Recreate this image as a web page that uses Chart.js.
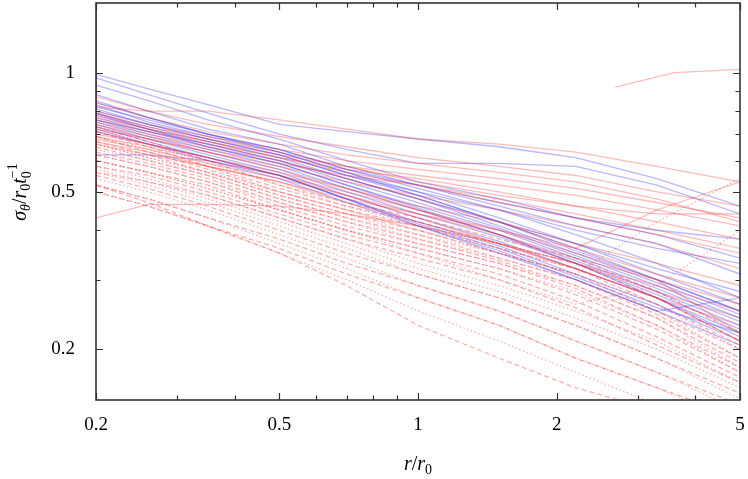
<!DOCTYPE html>
<html>
<head>
<meta charset="utf-8">
<script src="https://cdn.jsdelivr.net/npm/chart.js@4.4.1/dist/chart.umd.min.js"></script>
<style>
  html, body { margin: 0; background: #fff; }
  #wrap { width: 748px; height: 479px; }
</style>
</head>
<body>
<div id="wrap"><canvas id="chart"></canvas></div>
<script>
// ============================================
// Data
// ============================================
const XS = [0.2, 0.26, 0.35, 0.5, 0.7, 1, 1.5, 2.2, 3.3, 5];

// blue solid curves
const BLUE_SOLID = [
  [0.99, 0.91, 0.83, 0.74, 0.71, 0.68, 0.65, 0.61, 0.54, 0.46],
  [0.97, 0.88, 0.79, 0.70, 0.64, 0.59, 0.59, 0.58, 0.52, 0.44],
  [0.93, 0.85, 0.76, 0.68, 0.60, 0.53, 0.48, 0.43, 0.39, 0.34],
  [0.88, 0.80, 0.72, 0.66, 0.58, 0.52, 0.46, 0.41, 0.37, 0.31],
  [0.85, 0.77, 0.70, 0.64, 0.57, 0.51, 0.45, 0.39, 0.33, 0.27],
  [0.83, 0.75, 0.69, 0.63, 0.56, 0.50, 0.43, 0.37, 0.31, 0.26],
  [0.81, 0.74, 0.68, 0.62, 0.55, 0.49, 0.42, 0.36, 0.30, 0.25],
  [0.79, 0.73, 0.67, 0.61, 0.54, 0.48, 0.41, 0.35, 0.295, 0.245],
  [0.78, 0.72, 0.66, 0.60, 0.53, 0.47, 0.405, 0.345, 0.29, 0.24],
  [0.77, 0.71, 0.65, 0.59, 0.52, 0.46, 0.40, 0.34, 0.285, 0.235],
  [0.76, 0.70, 0.64, 0.58, 0.51, 0.45, 0.39, 0.335, 0.28, 0.23],
  [0.75, 0.69, 0.63, 0.57, 0.50, 0.44, 0.385, 0.33, 0.275, 0.225],
  [0.74, 0.68, 0.62, 0.56, 0.49, 0.43, 0.375, 0.32, 0.27, 0.22],
  [0.73, 0.67, 0.61, 0.55, 0.48, 0.42, 0.365, 0.31, 0.26, 0.21],
  [0.72, 0.66, 0.60, 0.54, 0.47, 0.41, 0.355, 0.30, 0.25, 0.205],
  [0.82, 0.76, 0.70, 0.64, 0.57, 0.52, 0.47, 0.43, 0.40, 0.38],
  [0.62, 0.62, 0.60, 0.55, 0.48, 0.41, 0.35, 0.30, 0.25, 0.27],
  [0.80, 0.74, 0.68, 0.62, 0.55, 0.50, 0.45, 0.40, 0.36, 0.33],
  [0.84, 0.77, 0.70, 0.63, 0.56, 0.49, 0.42, 0.355, 0.30, 0.25],
  [0.71, 0.66, 0.61, 0.55, 0.48, 0.415, 0.36, 0.305, 0.255, 0.22],
  [0.76, 0.71, 0.66, 0.60, 0.54, 0.48, 0.42, 0.37, 0.32, 0.28],
  [0.79, 0.72, 0.65, 0.59, 0.52, 0.455, 0.39, 0.33, 0.27, 0.215],
];

// red solid curves
const RED_SOLID = [
  [0.43, 0.465, 0.465, 0.46, 0.44, 0.41, 0.37, 0.33, 0.29, 0.25],
  [0.82, 0.80, 0.80, 0.76, 0.72, 0.68, 0.66, 0.63, 0.58, 0.53],
  [0.87, 0.80, 0.74, 0.69, 0.65, 0.61, 0.58, 0.55, 0.50, 0.46],
  [0.84, 0.77, 0.71, 0.66, 0.62, 0.59, 0.56, 0.53, 0.48, 0.42],
  [0.80, 0.74, 0.69, 0.64, 0.60, 0.57, 0.54, 0.51, 0.47, 0.43],
  [0.78, 0.72, 0.67, 0.62, 0.58, 0.55, 0.52, 0.49, 0.45, 0.41],
  [0.76, 0.71, 0.66, 0.61, 0.57, 0.54, 0.50, 0.46, 0.42, 0.38],
  [0.74, 0.69, 0.64, 0.59, 0.55, 0.52, 0.48, 0.44, 0.40, 0.36],
  [0.72, 0.68, 0.63, 0.58, 0.53, 0.49, 0.45, 0.41, 0.37, 0.32],
  [0.70, 0.66, 0.61, 0.56, 0.51, 0.46, 0.42, 0.37, 0.33, 0.29],
  [0.68, 0.64, 0.59, 0.54, 0.49, 0.44, 0.39, 0.34, 0.30, 0.26],
  [0.75, 0.70, 0.65, 0.60, 0.54, 0.48, 0.42, 0.36, 0.31, 0.27],
  [0.73, 0.68, 0.63, 0.57, 0.51, 0.45, 0.39, 0.33, 0.28, 0.24],
  [0.71, 0.66, 0.61, 0.55, 0.49, 0.43, 0.37, 0.32, 0.27, 0.23],
  [0.66, 0.62, 0.58, 0.53, 0.48, 0.44, 0.40, 0.36, 0.45, 0.53],
  [0.79, 0.73, 0.68, 0.63, 0.58, 0.53, 0.49, 0.46, 0.44, 0.44],
  [0.69, 0.65, 0.60, 0.55, 0.50, 0.45, 0.40, 0.35, 0.30, 0.22],
  [0.67, 0.63, 0.58, 0.53, 0.47, 0.42, 0.37, 0.32, 0.27, 0.21],
  [0.77, 0.72, 0.67, 0.61, 0.56, 0.52, 0.47, 0.43, 0.39, 0.35],
];

// red dashed curves
const RED_DASHED = [
  [0.73, 0.67, 0.60, 0.52, 0.47, 0.43, 0.38, 0.34, 0.28, 0.22],
  [0.71, 0.65, 0.58, 0.51, 0.46, 0.42, 0.37, 0.33, 0.27, 0.21],
  [0.69, 0.63, 0.57, 0.50, 0.45, 0.41, 0.36, 0.32, 0.26, 0.205],
  [0.67, 0.62, 0.56, 0.49, 0.44, 0.40, 0.35, 0.31, 0.25, 0.20],
  [0.65, 0.60, 0.55, 0.48, 0.43, 0.39, 0.34, 0.30, 0.245, 0.19],
  [0.63, 0.59, 0.54, 0.47, 0.42, 0.38, 0.335, 0.29, 0.24, 0.185],
  [0.62, 0.58, 0.53, 0.46, 0.41, 0.37, 0.33, 0.285, 0.23, 0.18],
  [0.60, 0.56, 0.52, 0.45, 0.40, 0.36, 0.32, 0.275, 0.225, 0.175],
  [0.58, 0.55, 0.50, 0.44, 0.39, 0.35, 0.31, 0.265, 0.215, 0.17],
  [0.56, 0.53, 0.49, 0.43, 0.38, 0.34, 0.30, 0.255, 0.205, 0.165],
  [0.55, 0.51, 0.46, 0.40, 0.35, 0.31, 0.27, 0.23, 0.19, 0.155],
  [0.52, 0.48, 0.43, 0.38, 0.33, 0.29, 0.25, 0.21, 0.175, 0.145],
  [0.50, 0.46, 0.41, 0.36, 0.31, 0.27, 0.23, 0.19, 0.16, 0.135],
  [0.52, 0.47, 0.41, 0.35, 0.29, 0.23, 0.19, 0.16, 0.14, 0.12],
];

// red dotted curves
const RED_DOTTED = [
  [0.72, 0.66, 0.59, 0.52, 0.46, 0.41, 0.37, 0.33, 0.28, 0.22],
  [0.69, 0.64, 0.58, 0.50, 0.45, 0.40, 0.36, 0.32, 0.27, 0.21],
  [0.66, 0.61, 0.56, 0.49, 0.44, 0.39, 0.35, 0.31, 0.26, 0.20],
  [0.64, 0.60, 0.55, 0.48, 0.43, 0.38, 0.34, 0.30, 0.25, 0.19],
  [0.62, 0.58, 0.53, 0.47, 0.42, 0.37, 0.33, 0.29, 0.24, 0.18],
  [0.60, 0.56, 0.51, 0.45, 0.40, 0.36, 0.32, 0.28, 0.23, 0.175],
  [0.58, 0.54, 0.49, 0.43, 0.38, 0.33, 0.29, 0.25, 0.21, 0.165],
  [0.56, 0.52, 0.47, 0.41, 0.36, 0.31, 0.27, 0.23, 0.19, 0.15],
  [0.54, 0.50, 0.45, 0.39, 0.34, 0.29, 0.25, 0.21, 0.175, 0.14],
  [0.52, 0.48, 0.43, 0.37, 0.32, 0.27, 0.23, 0.19, 0.16, 0.13],
  [0.66, 0.61, 0.56, 0.50, 0.45, 0.40, 0.35, 0.31, 0.42, 0.54],
  [0.60, 0.56, 0.51, 0.45, 0.40, 0.35, 0.30, 0.26, 0.29, 0.40],
  [0.50, 0.46, 0.41, 0.35, 0.30, 0.25, 0.21, 0.175, 0.145, 0.12],
  [0.57, 0.53, 0.48, 0.42, 0.37, 0.32, 0.28, 0.24, 0.20, 0.16],
];

// short red curve at the top right
const TOP_X = [2.68, 3.6, 5];
const TOP_Y = [0.92, 1.0, 1.02];

// red curves running up the left edge
const EDGE_X = [0.2, 0.2];
const EDGE_Y = [1.6, 0.5];

// axes
const X_MIN = 0.2, X_MAX = 5;
const Y_MIN = 0.149, Y_MAX = 1.5;
const X_TICKS = [0.2, 0.3, 0.4, 0.5, 0.6, 0.7, 0.8, 0.9, 1, 2, 3, 4, 5];
const X_LABELS = [0.2, 0.5, 1, 2, 5];
const Y_TICKS = [0.2, 0.3, 0.4, 0.5, 0.6, 0.7, 0.8, 0.9, 1];
const Y_LABELS = [0.2, 0.5, 1];

// ============================================
// Styles
// ============================================
const FONT = '"Liberation Serif", "DejaVu Serif", serif';
const BLUE = "rgba(40, 40, 255, 0.33)";
const RED = "rgba(255, 30, 30, 0.3)";
const RED_LINE = "rgba(255, 40, 40, 0.36)";

function toPoints(xs, ys) {
  return ys.map((v, i) => ({ x: xs[i], y: v })).filter((p) => p.y !== null);
}

function makeSet(vals, color, dash) {
  return {
    data: toPoints(XS, vals),
    borderColor: color,
    borderWidth: 1.3,
    borderDash: dash,
    pointRadius: 0,
    tension: 0,
  };
}

const datasets = [
  ...RED_DOTTED.map((v) => makeSet(v, RED_LINE, [1.5, 2.5])),
  ...RED_DASHED.map((v) => makeSet(v, RED_LINE, [5, 3])),
  ...RED_SOLID.map((v) => makeSet(v, RED, [])),
  ...BLUE_SOLID.map((v) => makeSet(v, BLUE, [])),
  {
    data: toPoints(TOP_X, TOP_Y),
    borderColor: RED,
    borderWidth: 1.3,
    pointRadius: 0,
  },
  {
    data: toPoints(EDGE_X, EDGE_Y),
    borderColor: "rgba(255, 0, 0, 0.85)",
    borderWidth: 1.6,
    pointRadius: 0,
  },
];

// ============================================
// Plugins: inward ticks, frame, axis titles
// ============================================
function drawRich(ctx, segs, x, y) {
  // measure, then draw centred on x
  let width = 0;
  const parts = segs.map((s) => {
    ctx.font = `${s.it ? "italic " : ""}${s.sz}px ${FONT}`;
    const w = ctx.measureText(s.t).width;
    const part = { ...s, w, off: width };
    if (!s.stack) width += w;
    return part;
  });
  // a stacked part shares its x with the next one
  parts.forEach((p, i) => {
    if (p.stack && i + 1 < parts.length) parts[i + 1].off = p.off;
  });
  const last = parts[parts.length - 1];
  width = Math.max(width, last.off + last.w);
  const x0 = x - width / 2;
  ctx.fillStyle = "#000";
  ctx.textBaseline = "alphabetic";
  ctx.textAlign = "left";
  parts.forEach((p) => {
    ctx.font = `${p.it ? "italic " : ""}${p.sz}px ${FONT}`;
    ctx.fillText(p.t, x0 + p.off, y + (p.dy || 0));
  });
}

const framePlugin = {
  id: "frame",
  afterDatasetsDraw(chart) {
    const { ctx, chartArea: a, scales } = chart;
    const sx = scales.x, sy = scales.y;
    ctx.save();
    ctx.strokeStyle = "#333";
    ctx.lineWidth = 1.2;
    ctx.beginPath();
    X_TICKS.forEach((v) => {
      const px = Math.round(sx.getPixelForValue(v)) + 0.5;
      const len = X_LABELS.includes(v) ? 7 : 4.5;
      ctx.moveTo(px, a.bottom);
      ctx.lineTo(px, a.bottom - len);
      ctx.moveTo(px, a.top);
      ctx.lineTo(px, a.top + len);
    });
    Y_TICKS.forEach((v) => {
      const py = Math.round(sy.getPixelForValue(v)) + 0.5;
      const len = Y_LABELS.includes(v) ? 7 : 4.5;
      ctx.moveTo(a.left, py);
      ctx.lineTo(a.left + len, py);
      ctx.moveTo(a.right, py);
      ctx.lineTo(a.right - len, py);
    });
    ctx.stroke();
    ctx.lineWidth = 1.6;
    ctx.strokeRect(a.left, a.top, a.right - a.left, a.bottom - a.top);
    ctx.restore();
  },
  afterDraw(chart) {
    const { ctx, chartArea: a } = chart;
    ctx.save();
    // x title: r / r_0
    drawRich(
      ctx,
      [
        { t: "r", it: true, sz: 20 },
        { t: "/", sz: 20 },
        { t: "r", it: true, sz: 20 },
        { t: "0", sz: 14, dy: 4 },
      ],
      (a.left + a.right) / 2,
      470
    );
    // y title: sigma_theta / r_0 t_0^-1
    ctx.translate(26, 192);
    ctx.rotate(-Math.PI / 2);
    drawRich(
      ctx,
      [
        { t: "σ", it: true, sz: 20 },
        { t: "θ", it: true, sz: 14, dy: 4 },
        { t: "/", sz: 20 },
        { t: "r", it: true, sz: 20 },
        { t: "0", sz: 14, dy: 4 },
        { t: "t", it: true, sz: 20 },
        { t: "0", sz: 14, dy: 5, stack: true },
        { t: "−1", sz: 14, dy: -9 },
      ],
      0,
      0
    );
    ctx.restore();
  },
};

// ============================================
// Chart
// ============================================
const ctx = document.getElementById("chart").getContext("2d");
new Chart(ctx, {
  type: "line",
  data: { datasets },
  options: {
    responsive: true,
    maintainAspectRatio: false,
    animation: false,
    layout: { padding: { top: 3, right: 8, left: 0, bottom: 0 } },
    plugins: { legend: { display: false }, tooltip: { enabled: false } },
    scales: {
      x: {
        type: "logarithmic",
        min: X_MIN,
        max: X_MAX,
        grid: { display: false, drawTicks: false },
        border: { display: false },
        afterBuildTicks: (s) => {
          s.ticks = X_TICKS.map((v) => ({ value: v }));
        },
        afterFit: (s) => {
          s.height = 79;
          s.paddingLeft = 0;
          s.paddingRight = 0;
        },
        ticks: {
          autoSkip: false,
          maxRotation: 0,
          padding: 14,
          color: "#000",
          font: { family: FONT, size: 19 },
          callback: (v) => (X_LABELS.includes(v) ? String(v) : ""),
        },
      },
      y: {
        type: "logarithmic",
        min: Y_MIN,
        max: Y_MAX,
        grid: { display: false, drawTicks: false },
        border: { display: false },
        afterBuildTicks: (s) => {
          s.ticks = Y_TICKS.map((v) => ({ value: v }));
        },
        afterFit: (s) => {
          s.width = 96;
          s.paddingTop = 0;
          s.paddingBottom = 0;
        },
        ticks: {
          autoSkip: false,
          padding: 21,
          color: "#000",
          font: { family: FONT, size: 19 },
          callback: (v) => (Y_LABELS.includes(v) ? String(v) : ""),
        },
      },
    },
  },
  plugins: [framePlugin],
});
</script>
</body>
</html>
